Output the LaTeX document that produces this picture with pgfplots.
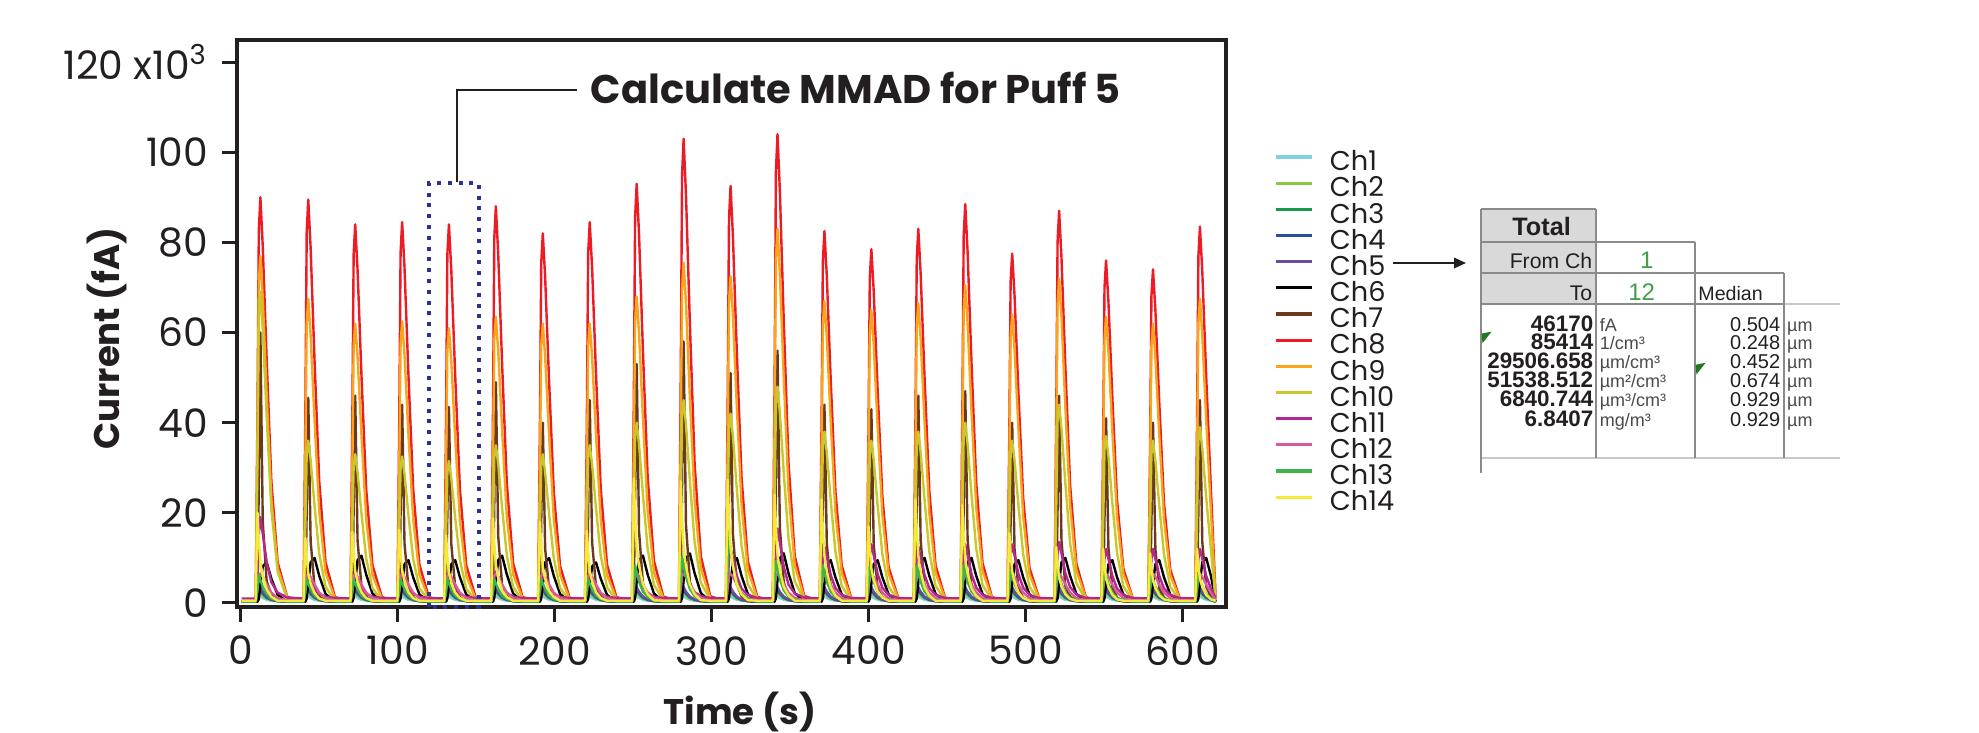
\documentclass[border=0pt]{standalone}
\usepackage{pgfplots}
\pgfplotsset{compat=1.18}
\usepackage{pgfplotstable}
\usepackage{fontspec}
\setmainfont{Poppins}
\newfontfamily\arialf{Liberation Sans}
\usetikzlibrary{arrows.meta}

\definecolor{chA}{HTML}{7FD0E0}
\definecolor{chB}{HTML}{8DC63F}
\definecolor{chC}{HTML}{1A9850}
\definecolor{chD}{HTML}{2B4DA0}
\definecolor{chE}{HTML}{6A4C9C}
\definecolor{chF}{HTML}{000000}
\definecolor{chG}{HTML}{6B3A1E}
\definecolor{chH}{HTML}{ED1C24}
\definecolor{chI}{HTML}{F8A51B}
\definecolor{chJ}{HTML}{C8C82A}
\definecolor{chK}{HTML}{B3278E}
\definecolor{chL}{HTML}{DA5A9E}
\definecolor{chM}{HTML}{3DB54A}
\definecolor{chN}{HTML}{F3EA3C}
\definecolor{boxblue}{HTML}{2E3192}
\definecolor{textc}{HTML}{231F20}
\definecolor{hdrgray}{HTML}{D9D9D9}
\definecolor{gridgray}{HTML}{8A8A8A}
\definecolor{lightgrid}{HTML}{C8C8C8}
\definecolor{xlgreen}{HTML}{3FA048}
\definecolor{cmtgreen}{HTML}{1E7A1E}
\definecolor{unitgray}{HTML}{4A4A4A}

\pgfplotstableread{
t c1 c2 c3 c4 c5 c6 c7 c8 c9 c10 c11 c12 c13 c14
0.5 0.3 0.3 0.3 0.3 0.3 0.3 0.3 0.3 0.3 0.3 1 0.5 0.3 0.5
9.5 0.3 0.3 0.3 0.3 0.3 0.3 0.3 0.3 0.3 0.3 1 0.5 0.3 0.5
10.7 1.1 1.6 1.8 2.1 2.3 0.3 3.0 45 38.5 34.5 6.4 3.5 3.3 20
11.5 1.8 2.8 3.3 3.8 4.3 0.9 27 82.8 70.8 63.5 15.4 6.0 6.3 14
12.5 1.5 2.3 2.7 3.1 3.5 4.1 60 90 77 69 19 6.5 5.1 9
14.0 1.1 1.7 2.0 2.2 2.5 8.1 18 79.2 67.8 60.7 15.4 5.8 3.6 6
16.5 0.7 1.0 1.1 1.3 1.4 9 4.8 54 46.2 41.4 9.1 4.1 2.0 3
19.5 0.5 0.6 0.7 0.7 0.8 5.4 1.8 27 23.1 20.7 4.6 2.3 1.0 1.4
23.5 0.4 0.4 0.4 0.4 0.5 1.8 0.6 9 7.7 6.9 2.3 1.1 0.5 0.5
29.5 0.3 0.3 0.3 0.3 0.3 0.3 0.3 1.4 1.2 1.0 1.2 0.6 0.3 0.5
40.0 0.3 0.3 0.3 0.3 0.3 0.3 0.3 0.3 0.3 0.3 1 0.5 0.3 0.5
41.2 1.1 1.6 1.8 2.1 2.3 0.3 2.3 44.8 33.8 18 2.5 3.5 2.8 14.4
42.0 1.8 2.8 3.3 3.8 4.3 1.0 20.5 82.3 62.1 33.1 5.0 6.0 5.3 10.1
43.0 1.5 2.3 2.7 3.1 3.5 4.5 45.5 89.5 67.5 36 6.0 6.5 4.3 6.5
44.5 1.1 1.7 2.0 2.2 2.5 9.0 13.7 78.8 59.4 31.7 5.0 5.8 3.1 4.3
47.0 0.7 1.0 1.1 1.3 1.4 10 3.6 53.7 40.5 21.6 3.3 4.1 1.7 2.2
50.0 0.5 0.6 0.7 0.7 0.8 6.0 1.4 26.9 20.3 10.8 2.0 2.3 0.9 1.0
54.0 0.4 0.4 0.4 0.4 0.5 2.0 0.5 9.0 6.8 3.6 1.4 1.1 0.5 0.5
60.0 0.3 0.3 0.3 0.3 0.3 0.3 0.3 1.3 1.0 0.5 1.1 0.6 0.3 0.5
69.9 0.3 0.3 0.3 0.3 0.3 0.3 0.3 0.3 0.3 0.3 1 0.5 0.3 0.5
71.1 1.1 1.6 1.8 2.1 2.3 0.3 2.3 42 31 16.5 2.5 3.5 2.8 15.8
71.9 1.8 2.8 3.3 3.8 4.3 1.1 20.7 77.3 57.0 30.4 5.0 6.0 5.3 11.1
72.9 1.5 2.3 2.7 3.1 3.5 4.7 46 84 62 33 6.0 6.5 4.3 7.1
74.4 1.1 1.7 2.0 2.2 2.5 9.5 13.8 73.9 54.6 29.0 5.0 5.8 3.1 4.7
76.9 0.7 1.0 1.1 1.3 1.4 10.5 3.7 50.4 37.2 19.8 3.3 4.1 1.7 2.4
79.9 0.5 0.6 0.7 0.7 0.8 6.3 1.4 25.2 18.6 9.9 2.0 2.3 0.9 1.1
83.9 0.4 0.4 0.4 0.4 0.5 2.1 0.5 8.4 6.2 3.3 1.4 1.1 0.5 0.5
89.9 0.3 0.3 0.3 0.3 0.3 0.3 0.3 1.3 0.9 0.5 1.1 0.6 0.3 0.5
99.8 0.3 0.3 0.3 0.3 0.3 0.3 0.3 0.3 0.3 0.3 1 0.5 0.3 0.5
101.0 1.1 1.6 1.8 2.1 2.3 0.3 2.2 42.3 31.3 16.3 2.5 3.5 2.8 16.2
101.8 1.8 2.8 3.3 3.8 4.3 1.0 19.8 77.7 57.5 29.9 5.0 6.0 5.3 11.3
102.8 1.5 2.3 2.7 3.1 3.5 4.3 44 84.5 62.5 32.5 6.0 6.5 4.3 7.3
104.3 1.1 1.7 2.0 2.2 2.5 8.6 13.2 74.4 55 28.6 5.0 5.8 3.1 4.9
106.8 0.7 1.0 1.1 1.3 1.4 9.5 3.5 50.7 37.5 19.5 3.3 4.1 1.7 2.4
109.8 0.5 0.6 0.7 0.7 0.8 5.7 1.3 25.4 18.8 9.8 2.0 2.3 0.9 1.1
113.8 0.4 0.4 0.4 0.4 0.5 1.9 0.4 8.5 6.3 3.3 1.4 1.1 0.5 0.5
119.8 0.3 0.3 0.3 0.3 0.3 0.3 0.3 1.3 0.9 0.5 1.1 0.6 0.3 0.5
129.6 0.3 0.3 0.3 0.3 0.3 0.3 0.3 0.3 0.3 0.3 1 0.5 0.3 0.5
130.8 1.1 1.6 1.8 2.1 2.3 0.3 2.2 42 30.5 15.8 2.5 3.5 2.8 15
131.6 1.8 2.8 3.3 3.8 4.3 1.0 19.6 77.3 56.1 29.0 5.0 6.0 5.3 10.5
132.6 1.5 2.3 2.7 3.1 3.5 4.3 43.5 84 61 31.5 6.0 6.5 4.3 6.8
134.1 1.1 1.7 2.0 2.2 2.5 8.6 13.1 73.9 53.7 27.7 5.0 5.8 3.1 4.5
136.6 0.7 1.0 1.1 1.3 1.4 9.5 3.5 50.4 36.6 18.9 3.3 4.1 1.7 2.3
139.6 0.5 0.6 0.7 0.7 0.8 5.7 1.3 25.2 18.3 9.5 2.0 2.3 0.9 1.1
143.6 0.4 0.4 0.4 0.4 0.5 1.9 0.4 8.4 6.1 3.2 1.4 1.1 0.5 0.5
149.6 0.3 0.3 0.3 0.3 0.3 0.3 0.3 1.3 0.9 0.5 1.1 0.6 0.3 0.5
159.5 0.3 0.3 0.3 0.3 0.3 0.3 0.3 0.3 0.3 0.3 1 0.5 0.3 0.5
160.7 1.1 1.6 1.8 2.1 2.3 0.3 2.5 44 31.8 17.5 2.8 3.5 2.8 18.8
161.5 1.8 2.8 3.3 3.8 4.3 1.1 22.1 81 58.4 32.2 5.8 6.0 5.3 13.2
162.5 1.5 2.3 2.7 3.1 3.5 4.7 49 88 63.5 35 7.0 6.5 4.3 8.5
164.0 1.1 1.7 2.0 2.2 2.5 9.5 14.7 77.4 55.9 30.8 5.8 5.8 3.1 5.6
166.5 0.7 1.0 1.1 1.3 1.4 10.5 3.9 52.8 38.1 21 3.7 4.1 1.7 2.8
169.5 0.5 0.6 0.7 0.7 0.8 6.3 1.5 26.4 19.1 10.5 2.2 2.3 0.9 1.3
173.5 0.4 0.4 0.4 0.4 0.5 2.1 0.5 8.8 6.4 3.5 1.4 1.1 0.5 0.5
179.5 0.3 0.3 0.3 0.3 0.3 0.3 0.3 1.3 1.0 0.5 1.1 0.6 0.3 0.5
189.4 0.3 0.3 0.3 0.3 0.3 0.3 0.3 0.3 0.3 0.3 1 0.5 0.3 0.5
190.6 1.1 1.6 1.8 2.1 2.3 0.3 2.0 41 31 16.5 2.5 3.5 2.8 18
191.4 1.8 2.8 3.3 3.8 4.3 1.0 18 75.4 57.0 30.4 5.0 6.0 5.3 12.6
192.4 1.5 2.3 2.7 3.1 3.5 4.5 40 82 62 33 6.0 6.5 4.3 8.1
193.9 1.1 1.7 2.0 2.2 2.5 9.0 12 72.2 54.6 29.0 5.0 5.8 3.1 5.4
196.4 0.7 1.0 1.1 1.3 1.4 10 3.2 49.2 37.2 19.8 3.3 4.1 1.7 2.7
199.4 0.5 0.6 0.7 0.7 0.8 6.0 1.2 24.6 18.6 9.9 2.0 2.3 0.9 1.3
203.4 0.4 0.4 0.4 0.4 0.5 2.0 0.4 8.2 6.2 3.3 1.4 1.1 0.5 0.5
209.4 0.3 0.3 0.3 0.3 0.3 0.3 0.3 1.2 0.9 0.5 1.1 0.6 0.3 0.5
219.3 0.3 0.3 0.3 0.3 0.3 0.3 0.3 0.3 0.3 0.3 1 0.5 0.3 0.5
220.5 1.1 1.6 1.8 2.1 2.3 0.3 2.3 42.3 31 17.5 2.5 3.5 2.8 16
221.3 1.8 2.8 3.3 3.8 4.3 0.9 20.3 77.7 57.0 32.2 5.0 6.0 5.3 11.2
222.3 1.5 2.3 2.7 3.1 3.5 4.1 45 84.5 62 35 6.0 6.5 4.3 7.2
223.8 1.1 1.7 2.0 2.2 2.5 8.1 13.5 74.4 54.6 30.8 5.0 5.8 3.1 4.8
226.3 0.7 1.0 1.1 1.3 1.4 9 3.6 50.7 37.2 21 3.3 4.1 1.7 2.4
229.3 0.5 0.6 0.7 0.7 0.8 5.4 1.4 25.4 18.6 10.5 2.0 2.3 0.9 1.1
233.3 0.4 0.4 0.4 0.4 0.5 1.8 0.5 8.5 6.2 3.5 1.4 1.1 0.5 0.5
239.3 0.3 0.3 0.3 0.3 0.3 0.3 0.3 1.3 0.9 0.5 1.1 0.6 0.3 0.5
249.2 0.3 0.3 0.3 0.3 0.3 0.3 0.3 0.3 0.3 0.3 1 0.5 0.3 0.5
250.4 1.1 1.6 1.8 2.1 2.3 0.3 2.7 46.5 34 20 2.8 3.5 4.3 27.7
251.2 1.8 2.8 3.3 3.8 4.3 1.1 23.9 85.6 62.6 36.8 5.8 6.0 8.3 19.4
252.2 1.5 2.3 2.7 3.1 3.5 4.7 53 93 68 40 7.0 6.5 6.7 12.5
253.7 1.1 1.7 2.0 2.2 2.5 9.5 15.9 81.8 59.8 35.2 5.8 5.8 4.7 8.3
256.2 0.7 1.0 1.1 1.3 1.4 10.5 4.2 55.8 40.8 24 3.7 4.1 2.5 4.2
259.2 0.5 0.6 0.7 0.7 0.8 6.3 1.6 27.9 20.4 12 2.2 2.3 1.3 1.9
263.2 0.4 0.4 0.4 0.4 0.5 2.1 0.5 9.3 6.8 4 1.4 1.1 0.6 0.6
269.2 0.3 0.3 0.3 0.3 0.3 0.3 0.3 1.4 1.0 0.6 1.1 0.6 0.3 0.5
279.1 0.3 0.3 0.3 0.3 0.3 0.3 0.3 0.3 0.3 0.3 1 0.5 0.3 0.5
280.3 1.1 1.6 1.8 2.1 2.3 0.3 2.9 51.5 37.8 22.5 3.1 3.5 5.3 27
281.1 1.8 2.8 3.3 3.8 4.3 1.1 26.1 94.8 69.5 41.4 6.6 6.0 10.3 18.9
282.1 1.5 2.3 2.7 3.1 3.5 5.0 58 103 75.5 45 8.0 6.5 8.3 12.2
283.6 1.1 1.7 2.0 2.2 2.5 9.9 17.4 90.6 66.4 39.6 6.6 5.8 5.8 8.1
286.1 0.7 1.0 1.1 1.3 1.4 11 4.6 61.8 45.3 27 4.2 4.1 3.1 4.1
289.1 0.5 0.6 0.7 0.7 0.8 6.6 1.7 30.9 22.7 13.5 2.4 2.3 1.5 1.9
293.1 0.4 0.4 0.4 0.4 0.5 2.2 0.6 10.3 7.6 4.5 1.5 1.1 0.7 0.6
299.1 0.3 0.3 0.3 0.3 0.3 0.3 0.3 1.5 1.1 0.7 1.1 0.6 0.3 0.5
309.0 0.3 0.3 0.3 0.3 0.3 0.3 0.3 0.3 0.3 0.3 1 0.5 0.3 0.5
310.2 1.1 1.6 1.8 2.1 2.3 0.3 2.6 46.3 36.3 21 4.3 3.5 7.6 27.3
311.0 1.8 2.8 3.3 3.8 4.3 1.0 23.0 85.1 66.7 38.6 9.8 6.0 14.9 19.1
312.0 1.5 2.3 2.7 3.1 3.5 4.5 51 92.5 72.5 42 12 6.5 12.0 12.3
313.5 1.1 1.7 2.0 2.2 2.5 9.0 15.3 81.4 63.8 37.0 9.8 5.8 8.3 8.2
316.0 0.7 1.0 1.1 1.3 1.4 10 4.1 55.5 43.5 25.2 6.0 4.1 4.4 4.1
319.0 0.5 0.6 0.7 0.7 0.8 6.0 1.5 27.8 21.8 12.6 3.2 2.3 2.1 1.9
323.0 0.4 0.4 0.4 0.4 0.5 2.0 0.5 9.3 7.3 4.2 1.8 1.1 0.9 0.6
329.0 0.3 0.3 0.3 0.3 0.3 0.3 0.3 1.4 1.1 0.6 1.1 0.6 0.3 0.5
338.9 0.3 0.3 0.3 0.3 0.3 0.3 0.3 0.3 0.3 0.3 1 0.5 0.3 0.5
340.1 1.1 1.6 1.8 2.1 2.3 0.3 2.8 52 41.5 24 5.7 3.5 4.8 24
340.9 1.8 2.8 3.3 3.8 4.3 1.1 25.2 95.7 76.4 44.2 13.4 6.0 9.3 16.8
341.9 1.5 2.3 2.7 3.1 3.5 5.0 56 104 83 48 16.5 6.5 7.5 10.8
343.4 1.1 1.7 2.0 2.2 2.5 9.9 16.8 91.5 73.0 42.2 13.4 5.8 5.3 7.2
345.9 0.7 1.0 1.1 1.3 1.4 11 4.5 62.4 49.8 28.8 8.0 4.1 2.8 3.6
348.9 0.5 0.6 0.7 0.7 0.8 6.6 1.7 31.2 24.9 14.4 4.1 2.3 1.4 1.7
352.9 0.4 0.4 0.4 0.4 0.5 2.2 0.6 10.4 8.3 4.8 2.1 1.1 0.7 0.5
358.9 0.3 0.3 0.3 0.3 0.3 0.3 0.3 1.6 1.2 0.7 1.2 0.6 0.3 0.5
368.8 0.3 0.3 0.3 0.3 0.3 0.3 0.3 0.3 0.3 0.3 1 0.5 0.3 0.5
370.0 1.1 1.6 1.8 2.1 2.3 0.3 2.2 41.3 33.5 19 4.5 3.5 4.3 23
370.8 1.8 2.8 3.3 3.8 4.3 1.0 19.8 75.9 61.6 35.0 10.2 6.0 8.3 16.1
371.8 1.5 2.3 2.7 3.1 3.5 4.3 44 82.5 67 38 12.5 6.5 6.7 10.4
373.3 1.1 1.7 2.0 2.2 2.5 8.6 13.2 72.6 59.0 33.4 10.2 5.8 4.7 6.9
375.8 0.7 1.0 1.1 1.3 1.4 9.5 3.5 49.5 40.2 22.8 6.2 4.1 2.5 3.5
378.8 0.5 0.6 0.7 0.7 0.8 5.7 1.3 24.8 20.1 11.4 3.3 2.3 1.3 1.6
382.8 0.4 0.4 0.4 0.4 0.5 1.9 0.4 8.3 6.7 3.8 1.8 1.1 0.6 0.5
388.8 0.3 0.3 0.3 0.3 0.3 0.3 0.3 1.2 1.0 0.6 1.1 0.6 0.3 0.5
398.7 0.3 0.3 0.3 0.3 0.3 0.3 0.3 0.3 0.3 0.3 1 0.5 0.3 0.5
399.9 1.1 1.6 1.8 2.1 2.3 0.3 2.2 39.3 32.5 18 4.6 3.5 4.3 17
400.7 1.8 2.8 3.3 3.8 4.3 1.0 19.4 72.2 59.8 33.1 10.6 6.0 8.3 11.9
401.7 1.5 2.3 2.7 3.1 3.5 4.3 43 78.5 65 36 13 6.5 6.7 7.7
403.2 1.1 1.7 2.0 2.2 2.5 8.6 12.9 69.1 57.2 31.7 10.6 5.8 4.7 5.1
405.7 0.7 1.0 1.1 1.3 1.4 9.5 3.4 47.1 39 21.6 6.4 4.1 2.5 2.6
408.7 0.5 0.6 0.7 0.7 0.8 5.7 1.3 23.6 19.5 10.8 3.4 2.3 1.3 1.2
412.7 0.4 0.4 0.4 0.4 0.5 1.9 0.4 7.9 6.5 3.6 1.8 1.1 0.6 0.5
418.7 0.3 0.3 0.3 0.3 0.3 0.3 0.3 1.2 1.0 0.5 1.1 0.6 0.3 0.5
428.6 0.3 0.3 0.3 0.3 0.3 0.3 0.3 0.3 0.3 0.3 1 0.5 0.3 0.5
429.8 1.1 1.6 1.8 2.1 2.3 0.3 2.3 41.5 33.3 19 4.5 3.5 4.3 23
430.6 1.8 2.8 3.3 3.8 4.3 1.0 20.7 76.4 61.2 35.0 10.2 6.0 8.3 16.1
431.6 1.5 2.3 2.7 3.1 3.5 4.5 46 83 66.5 38 12.5 6.5 6.7 10.4
433.1 1.1 1.7 2.0 2.2 2.5 9.0 13.8 73.0 58.5 33.4 10.2 5.8 4.7 6.9
435.6 0.7 1.0 1.1 1.3 1.4 10 3.7 49.8 39.9 22.8 6.2 4.1 2.5 3.5
438.6 0.5 0.6 0.7 0.7 0.8 6.0 1.4 24.9 20.0 11.4 3.3 2.3 1.3 1.6
442.6 0.4 0.4 0.4 0.4 0.5 2.0 0.5 8.3 6.7 3.8 1.8 1.1 0.6 0.5
448.6 0.3 0.3 0.3 0.3 0.3 0.3 0.3 1.2 1.0 0.6 1.1 0.6 0.3 0.5
458.5 0.3 0.3 0.3 0.3 0.3 0.3 0.3 0.3 0.3 0.3 1 0.5 0.3 0.5
459.7 1.1 1.6 1.8 2.1 2.3 0.3 2.4 44.3 35.3 20 4.6 3.5 4.3 21.7
460.5 1.8 2.8 3.3 3.8 4.3 1.0 21.2 81.4 64.9 36.8 10.6 6.0 8.3 15.2
461.5 1.5 2.3 2.7 3.1 3.5 4.5 47 88.5 70.5 40 13 6.5 6.7 9.8
463.0 1.1 1.7 2.0 2.2 2.5 9.0 14.1 77.9 62.0 35.2 10.6 5.8 4.7 6.5
465.5 0.7 1.0 1.1 1.3 1.4 10 3.8 53.1 42.3 24 6.4 4.1 2.5 3.3
468.5 0.5 0.6 0.7 0.7 0.8 6.0 1.4 26.6 21.2 12 3.4 2.3 1.3 1.5
472.5 0.4 0.4 0.4 0.4 0.5 2.0 0.5 8.9 7.1 4 1.8 1.1 0.6 0.5
478.5 0.3 0.3 0.3 0.3 0.3 0.3 0.3 1.3 1.1 0.6 1.1 0.6 0.3 0.5
488.4 0.3 0.3 0.3 0.3 0.3 0.3 0.3 0.3 0.3 0.3 1 0.5 0.3 0.5
489.6 1.1 1.6 1.8 2.1 2.3 0.3 2.0 38.8 32 18 4.6 3.5 3.8 15.5
490.4 1.8 2.8 3.3 3.8 4.3 1.0 18 71.3 58.9 33.1 10.6 6.0 7.3 10.9
491.4 1.5 2.3 2.7 3.1 3.5 4.3 40 77.5 64 36 13 6.5 5.9 7.0
492.9 1.1 1.7 2.0 2.2 2.5 8.6 12 68.2 56.3 31.7 10.6 5.8 4.2 4.7
495.4 0.7 1.0 1.1 1.3 1.4 9.5 3.2 46.5 38.4 21.6 6.4 4.1 2.3 2.3
498.4 0.5 0.6 0.7 0.7 0.8 5.7 1.2 23.3 19.2 10.8 3.4 2.3 1.1 1.1
502.4 0.4 0.4 0.4 0.4 0.5 1.9 0.4 7.8 6.4 3.6 1.8 1.1 0.6 0.5
508.4 0.3 0.3 0.3 0.3 0.3 0.3 0.3 1.2 1.0 0.5 1.1 0.6 0.3 0.5
518.3 0.3 0.3 0.3 0.3 0.3 0.3 0.3 0.3 0.3 0.3 1 0.5 0.3 0.5
519.5 1.1 1.6 1.8 2.1 2.3 0.3 2.3 43.5 36 22 4.8 3.5 3.8 12.4
520.3 1.8 2.8 3.3 3.8 4.3 1.0 20.7 80.0 66.2 40.5 11 6.0 7.3 8.7
521.3 1.5 2.3 2.7 3.1 3.5 4.5 46 87 72 44 13.5 6.5 5.9 5.6
522.8 1.1 1.7 2.0 2.2 2.5 9.0 13.8 76.6 63.4 38.7 11 5.8 4.2 3.7
525.3 0.7 1.0 1.1 1.3 1.4 10 3.7 52.2 43.2 26.4 6.6 4.1 2.3 1.9
528.3 0.5 0.6 0.7 0.7 0.8 6.0 1.4 26.1 21.6 13.2 3.5 2.3 1.1 0.9
532.3 0.4 0.4 0.4 0.4 0.5 2.0 0.5 8.7 7.2 4.4 1.9 1.1 0.6 0.5
538.3 0.3 0.3 0.3 0.3 0.3 0.3 0.3 1.3 1.1 0.7 1.1 0.6 0.3 0.5
548.2 0.3 0.3 0.3 0.3 0.3 0.3 0.3 0.3 0.3 0.3 1 0.5 0.3 0.5
549.4 1.1 1.6 1.8 2.1 2.3 0.3 2.1 38 31.8 18.5 4.3 3.5 3.8 12
550.2 1.8 2.8 3.3 3.8 4.3 1.0 18.5 69.9 58.4 34.0 9.8 6.0 7.3 8.4
551.2 1.5 2.3 2.7 3.1 3.5 4.3 41 76 63.5 37 12 6.5 5.9 5.4
552.7 1.1 1.7 2.0 2.2 2.5 8.6 12.3 66.9 55.9 32.6 9.8 5.8 4.2 3.6
555.2 0.7 1.0 1.1 1.3 1.4 9.5 3.3 45.6 38.1 22.2 6.0 4.1 2.3 1.8
558.2 0.5 0.6 0.7 0.7 0.8 5.7 1.2 22.8 19.1 11.1 3.2 2.3 1.1 0.8
562.2 0.4 0.4 0.4 0.4 0.5 1.9 0.4 7.6 6.4 3.7 1.8 1.1 0.6 0.5
568.2 0.3 0.3 0.3 0.3 0.3 0.3 0.3 1.1 1.0 0.6 1.1 0.6 0.3 0.5
578.1 0.3 0.3 0.3 0.3 0.3 0.3 0.3 0.3 0.3 0.3 1 0.5 0.3 0.5
579.3 1.1 1.6 1.8 2.1 2.3 0.3 2.0 37 31 18 4.3 3.5 3.3 11
580.1 1.8 2.8 3.3 3.8 4.3 1.0 18 68.1 57.0 33.1 9.8 6.0 6.3 7.7
581.1 1.5 2.3 2.7 3.1 3.5 4.3 40 74 62 36 12 6.5 5.1 5.0
582.6 1.1 1.7 2.0 2.2 2.5 8.6 12 65.1 54.6 31.7 9.8 5.8 3.6 3.3
585.1 0.7 1.0 1.1 1.3 1.4 9.5 3.2 44.4 37.2 21.6 6.0 4.1 2.0 1.7
588.1 0.5 0.6 0.7 0.7 0.8 5.7 1.2 22.2 18.6 10.8 3.2 2.3 1.0 0.8
592.1 0.4 0.4 0.4 0.4 0.5 1.9 0.4 7.4 6.2 3.6 1.8 1.1 0.5 0.5
598.1 0.3 0.3 0.3 0.3 0.3 0.3 0.3 1.1 0.9 0.5 1.1 0.6 0.3 0.5
608.0 0.3 0.3 0.3 0.3 0.3 0.3 0.3 0.3 0.3 0.3 1 0.5 0.3 0.5
609.2 1.1 1.6 1.8 2.1 2.3 0.3 2.3 41.8 33.8 19.5 4.3 3.5 3.3 12
610.0 1.8 2.8 3.3 3.8 4.3 1.0 20.3 76.8 62.1 35.9 9.8 6.0 6.3 8.4
611.0 1.5 2.3 2.7 3.1 3.5 4.5 45 83.5 67.5 39 12 6.5 5.1 5.4
612.5 1.1 1.7 2.0 2.2 2.5 9.0 13.5 73.5 59.4 34.3 9.8 5.8 3.6 3.6
615.0 0.7 1.0 1.1 1.3 1.4 10 3.6 50.1 40.5 23.4 6.0 4.1 2.0 1.8
618.0 0.5 0.6 0.7 0.7 0.8 6.0 1.4 25.1 20.3 11.7 3.2 2.3 1.0 0.8
621.0 0.3 0.3 0.3 0.3 0.3 0.3 0.3 1.3 1.0 0.6 1.1 0.6 0.3 0.5
}\puffs

\begin{document}
\begin{tikzpicture}[x=1pt,y=1pt]
\begin{axis}[
  at={(59.25pt,31.25pt)}, anchor=south west,
  width=247.25pt, height=141.75pt, scale only axis,
  xmin=-2.4, xmax=627.6, ymin=-0.9, ymax=124.9,
  xtick={0,100,...,600}, ytick={0,20,...,120},
  yticklabels={0,20,40,60,80,100,{120 x10\textsuperscript{3}}},
  scaled y ticks=false,
  tick align=outside, xtick pos=lower, ytick pos=left,
  major tick length=3.75pt,
  axis line style={line width=1pt, textc},
  every tick/.style={line width=0.75pt, textc},
  tick label style={font=\fontsize{9.8}{11}\selectfont, text=textc},
  /pgf/number format/assume math mode=true,
  xlabel={Time (s)}, ylabel={Current (fA)},
  label style={font=\bfseries\fontsize{8.9}{10}\selectfont, text=textc},
  xlabel style={at={(axis description cs:0.5086,-0.208)}, anchor=base},
  ylabel style={at={(axis description cs:-0.131,0.474)}, anchor=center},
  clip=false,
  legend style={at={(axis description cs:1.0485,0.804)}, anchor=north west,
    draw=none, fill=none, inner sep=0pt, outer sep=0pt,
    font=\fontsize{6.8}{7}\selectfont, text=textc,
    row sep=0pt, column sep=4pt,
    nodes={inner sep=0pt, text height=4.9pt, text depth=1.64pt}},
  legend cell align=left,
  legend image code/.code={\draw[#1, line width=0.8pt] (0pt,1.8pt) -- (9.2pt,1.8pt);},
  every axis plot/.append style={no marks, line width=0.6pt, line join=round},
]
\addplot[chA] table[x=t,y=c1]{\puffs};
\addplot[chB] table[x=t,y=c2]{\puffs};
\addplot[chC] table[x=t,y=c3]{\puffs};
\addplot[chD] table[x=t,y=c4]{\puffs};
\addplot[chE] table[x=t,y=c5]{\puffs};
\addplot[chF] table[x=t,y=c6]{\puffs};
\addplot[chG] table[x=t,y=c7]{\puffs};
\addplot[chH] table[x=t,y=c8]{\puffs};
\addplot[chI] table[x=t,y=c9]{\puffs};
\addplot[chJ] table[x=t,y=c10]{\puffs};
\addplot[chK] table[x=t,y=c11]{\puffs};
\addplot[chL] table[x=t,y=c12]{\puffs};
\addplot[chM] table[x=t,y=c13]{\puffs};
\addplot[chN] table[x=t,y=c14]{\puffs};
\legend{Ch1,Ch2,Ch3,Ch4,Ch5,Ch6,Ch7,Ch8,Ch9,Ch10,Ch11,Ch12,Ch13,Ch14}
\draw[boxblue, line width=1pt, dash pattern=on 1pt off 1.7pt]
  (axis cs:119.7,-0.9) rectangle (axis cs:151.6,93.1);
\end{axis}
% annotation
\draw[textc, line width=0.5pt] (144.25,160.5) -- (114.25,160.5) -- (114.25,137.6);
\node[anchor=base west, inner sep=0pt, text=textc, font=\bfseries\fontsize{10}{12}\selectfont]
  at (147.5,157.2) {Calculate MMAD for Puff 5};
% arrow from legend to table
\draw[textc, line width=0.5pt, -{Triangle[length=3pt,width=2.6pt]}] (348.25,117.25) -- (366.5,117.25);
% table
\fill[hdrgray] (370.25,130.75) rectangle (399,107);
\draw[gridgray, line width=0.45pt] (370.25,130.75) -- (399,130.75);
\draw[gridgray, line width=0.45pt] (370.25,122.5) -- (423.75,122.5);
\draw[gridgray, line width=0.45pt] (370.25,114.75) -- (446,114.75);
\draw[gridgray, line width=0.45pt] (370.25,107) -- (446,107);
\draw[lightgrid, line width=0.45pt] (446,107) -- (460,107);
\draw[lightgrid, line width=0.45pt] (370.25,68.5) -- (460,68.5);
\draw[gridgray, line width=0.45pt] (370.25,130.75) -- (370.25,64.75);
\draw[gridgray, line width=0.45pt] (399,130.75) -- (399,68.5);
\draw[gridgray, line width=0.45pt] (423.75,122.5) -- (423.75,68.5);
\draw[gridgray, line width=0.45pt] (446,114.75) -- (446,68.5);
\fill[cmtgreen] (370.4,99.6) -- (372.9,100.1) -- (370.6,97.2) -- cycle;
\fill[cmtgreen] (423.9,91.8) -- (426.4,92.3) -- (424.1,89.4) -- cycle;
\begin{scope}[every node/.style={inner sep=0pt, text=textc}]
\node[anchor=base, font=\arialf\bfseries\fontsize{6.3}{7}\selectfont] at (385.4,124.25) {Total};
\node[anchor=base east, font=\arialf\fontsize{5.3}{6}\selectfont] at (398.25,115.9) {From Ch};
\node[anchor=base east, font=\arialf\fontsize{5.3}{6}\selectfont] at (398.25,108) {To};
\node[anchor=base, font=\arialf\fontsize{6}{7}\selectfont, text=xlgreen] at (411.7,115.9) {1};
\node[anchor=base, font=\arialf\fontsize{6}{7}\selectfont, text=xlgreen] at (410.4,108) {12};
\node[anchor=base west, font=\arialf\fontsize{4.9}{6}\selectfont] at (424.4,108) {Median};
\end{scope}
\begin{scope}[every node/.style={inner sep=0pt, text=textc}]
\tikzset{num/.style={anchor=base east, font=\arialf\bfseries\fontsize{5.6}{6}\selectfont},
         unit/.style={anchor=base west, font=\arialf\fontsize{4.5}{5}\selectfont, text=unitgray},
         med/.style={anchor=base east, font=\arialf\fontsize{5}{6}\selectfont}}
\node[num] at (398.5,100.25) {46170};
\node[num] at (398.5,95.6) {85414};
\node[num] at (398.5,90.9) {29506.658};
\node[num] at (398.5,86.1) {51538.512};
\node[num] at (398.5,81.3) {6840.744};
\node[num] at (398.5,76.5) {6.8407};
\node[unit] at (399.75,100.25) {fA};
\node[unit] at (399.75,95.6) {1/cm³};
\node[unit] at (399.75,90.9) {µm/cm³};
\node[unit] at (399.75,86.1) {µm²/cm³};
\node[unit] at (399.75,81.3) {µm³/cm³};
\node[unit] at (399.75,76.5) {mg/m³};
\node[med] at (445.25,100.25) {0.504};
\node[med] at (445.25,95.6) {0.248};
\node[med] at (445.25,90.9) {0.452};
\node[med] at (445.25,86.1) {0.674};
\node[med] at (445.25,81.3) {0.929};
\node[med] at (445.25,76.5) {0.929};
\node[unit] at (446.6,100.25) {µm};
\node[unit] at (446.6,95.6) {µm};
\node[unit] at (446.6,90.9) {µm};
\node[unit] at (446.6,86.1) {µm};
\node[unit] at (446.6,81.3) {µm};
\node[unit] at (446.6,76.5) {µm};
\end{scope}
\pgfresetboundingbox
\useasboundingbox (0,0) rectangle (494.75,183);
\end{tikzpicture}
\end{document}
